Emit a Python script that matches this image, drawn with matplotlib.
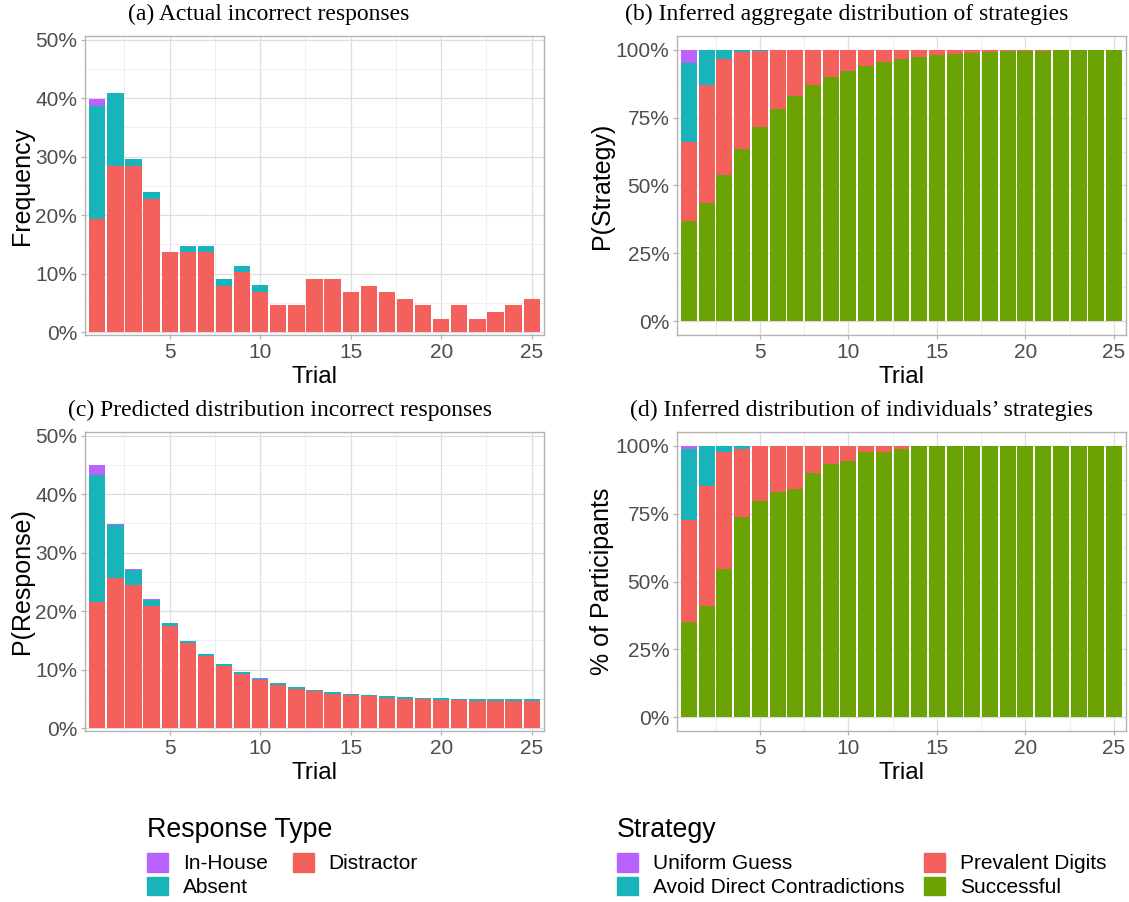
import matplotlib
matplotlib.use("Agg")
import matplotlib.pyplot as plt
import numpy as np
from matplotlib.patches import Patch
from matplotlib.ticker import FuncFormatter, MultipleLocator

# ---- data (percent) ----
trials = np.arange(1, 26)

# (a) actual incorrect responses
a_distractor = [19.32, 28.41, 28.41, 22.73, 13.64, 13.64, 13.64, 7.95, 10.23, 6.82,
                4.55, 4.55, 9.09, 9.09, 6.82, 7.95, 6.82, 5.68, 4.55, 2.27,
                4.55, 2.27, 3.41, 4.55, 5.68]
a_absent = [19.32, 12.50, 1.14, 1.14, 0, 1.14, 1.14, 1.14, 1.14, 1.14,
            0, 0, 0, 0, 0, 0, 0, 0, 0, 0, 0, 0, 0, 0, 0]
a_inhouse = [1.14] + [0] * 24

# (b) inferred aggregate distribution of strategies
b_successful = [36.8, 43.6, 53.7, 63.4, 71.5, 78.0, 83.1, 86.9, 89.9, 92.2,
                94.1, 95.5, 96.5, 97.3, 97.9, 98.5, 98.9, 99.1, 99.4, 99.5,
                99.6, 99.8, 99.85, 99.9, 99.95]
b_prevalent = [29.3, 43.3, 42.8, 35.7, 28.1, 22.0, 16.9, 13.1, 10.1, 7.8,
               5.9, 4.5, 3.5, 2.7, 2.1, 1.5, 1.1, 0.9, 0.6, 0.5,
               0.4, 0.2, 0.15, 0.1, 0.05]
b_avoid = [28.8, 13.1, 3.5, 0.9, 0.4] + [0] * 20
b_uniform = [5.1] + [0] * 24

# (c) predicted distribution of incorrect responses
c_distractor = [21.6, 25.7, 24.4, 20.9, 17.4, 14.6, 12.3, 10.6, 9.2, 8.2,
                7.4, 6.7, 6.3, 5.8, 5.6, 5.4, 5.1, 5.0, 4.9, 4.8,
                4.75, 4.7, 4.7, 4.7, 4.7]
c_absent = [21.6, 9.0, 2.6, 1.0, 0.5, 0.3, 0.3, 0.3, 0.3, 0.25,
            0.3, 0.3, 0.25, 0.3, 0.25, 0.25, 0.3, 0.3, 0.25, 0.3,
            0.25, 0.25, 0.25, 0.25, 0.25]
c_inhouse = [1.8, 0.2, 0.2, 0.1, 0.08, 0.06, 0.06, 0.05, 0.05, 0.04,
             0.04, 0.04, 0.04, 0.04, 0.04, 0.04, 0.04, 0.04, 0.04, 0.04,
             0.04, 0.04, 0.04, 0.04, 0.04]

# (d) inferred distribution of individuals' strategies
d_successful = [35.1, 40.9, 54.6, 73.9, 79.6, 83.0, 84.2, 89.8, 93.3, 94.5,
                97.7, 97.7, 98.9] + [100] * 12
d_prevalent = [37.5, 44.3, 43.1, 25.0, 20.4, 17.0, 15.8, 10.2, 6.7, 5.5,
               2.3, 2.3, 1.1] + [0] * 12
d_avoid = [26.3, 14.8, 2.3, 1.1] + [0] * 21
d_uniform = [1.1] + [0] * 24

response_labels = ["In-House", "Absent", "Distractor"]
strategy_labels = ["Uniform Guess", "Avoid Direct Contradictions",
                   "Prevalent Digits", "Successful"]

# colours
PURPLE = "#B963FF"
CYAN = "#19B4B9"
RED = "#F4615C"
GREEN = "#6BA204"

SANS = "Liberation Sans"
SERIF = "Liberation Serif"
plt.rcParams["font.family"] = SANS

W, H = 1129, 902
fig = plt.figure(figsize=(W / 100, H / 100), dpi=100)


def panel(left, top, right, bottom):
	return fig.add_axes([left / W, 1 - bottom / H, (right - left) / W, (bottom - top) / H])


def stacked(ax, layers):
	"""layers from bottom to top: list of (values, colour)"""
	base = np.zeros(len(trials))
	for vals, col in layers:
		vals = np.asarray(vals, dtype=float)
		ax.bar(trials, vals, bottom=base, width=0.9, color=col, linewidth=0, zorder=3)
		base = base + vals


def style(ax, ylim, ymajor, yminor, ylabel):
	ax.set_xlim(0.32, 25.68)
	ax.set_ylim(*ylim)
	ax.xaxis.set_major_locator(MultipleLocator(5))
	ax.xaxis.set_minor_locator(MultipleLocator(2.5))
	ax.yaxis.set_major_locator(MultipleLocator(ymajor))
	ax.yaxis.set_minor_locator(MultipleLocator(yminor))
	ax.yaxis.set_major_formatter(FuncFormatter(lambda v, p: "%d%%" % round(v)))
	ax.grid(which="major", color="#DEDEDE", linewidth=0.9, zorder=0)
	ax.grid(which="minor", color="#EDEDED", linewidth=0.6, zorder=0)
	ax.set_axisbelow(True)
	for s in ax.spines.values():
		s.set_color("#B3B3B3")
		s.set_linewidth(1.0)
	ax.tick_params(which="major", length=3, width=0.9, color="#B3B3B3",
		labelsize=15, labelcolor="#4D4D4D", pad=2.5)
	ax.tick_params(which="minor", length=0)
	ax.set_xlabel("Trial", fontsize=17.5, labelpad=3)
	ax.set_ylabel(ylabel, fontsize=18, labelpad=1)


ax_a = panel(85, 36, 544, 335)
stacked(ax_a, [(a_distractor, RED), (a_absent, CYAN), (a_inhouse, PURPLE)])
style(ax_a, (-0.5, 50.6), 10, 5, "Frequency")

ax_b = panel(677, 36, 1126, 335)
stacked(ax_b, [(b_successful, GREEN), (b_prevalent, RED), (b_avoid, CYAN), (b_uniform, PURPLE)])
style(ax_b, (-5, 105), 25, 12.5, "P(Strategy)")

ax_c = panel(85, 432, 544, 731)
stacked(ax_c, [(c_distractor, RED), (c_absent, CYAN), (c_inhouse, PURPLE)])
style(ax_c, (-0.5, 50.6), 10, 5, "P(Response)")

ax_d = panel(677, 432, 1126, 731)
stacked(ax_d, [(d_successful, GREEN), (d_prevalent, RED), (d_avoid, CYAN), (d_uniform, PURPLE)])
style(ax_d, (-5, 105), 25, 12.5, "% of Participants")

# panel titles
titles = [("(a) Actual incorrect responses", 269, 14),
	("(b) Inferred aggregate distribution of strategies", 847, 14),
	("(c) Predicted distribution incorrect responses", 280, 410),
	("(d) Inferred distribution of individuals\u2019 strategies", 861, 410)]
for txt, x, y in titles:
	fig.text(x / W, 1 - y / H, txt, family=SERIF, fontsize=17, ha="center", va="center")

# legends (titles drawn as separate text for spacing control)
fig.text(147 / W, 1 - 830 / H, "Response Type", fontsize=19.3, ha="left", va="center")
fig.text(617 / W, 1 - 830 / H, "Strategy", fontsize=19.3, ha="left", va="center")

resp_handles = [Patch(color=PURPLE), Patch(color=CYAN), Patch(color=RED)]
fig.legend(resp_handles, response_labels, ncol=2,
	loc="upper left", bbox_to_anchor=(147 / W, 1 - 853 / H), frameon=False,
	fontsize=15, borderpad=0, borderaxespad=0,
	handlelength=1.0, handleheight=1.0, handletextpad=0.72,
	labelspacing=0.15, columnspacing=1.2)

strat_handles = [Patch(color=PURPLE), Patch(color=CYAN), Patch(color=RED), Patch(color=GREEN)]
fig.legend(strat_handles, strategy_labels, ncol=2,
	loc="upper left", bbox_to_anchor=(617 / W, 1 - 853 / H), frameon=False,
	fontsize=15, borderpad=0, borderaxespad=0,
	handlelength=1.0, handleheight=1.0, handletextpad=0.72,
	labelspacing=0.15, columnspacing=0.95)

fig.savefig("out.png", dpi=100)
